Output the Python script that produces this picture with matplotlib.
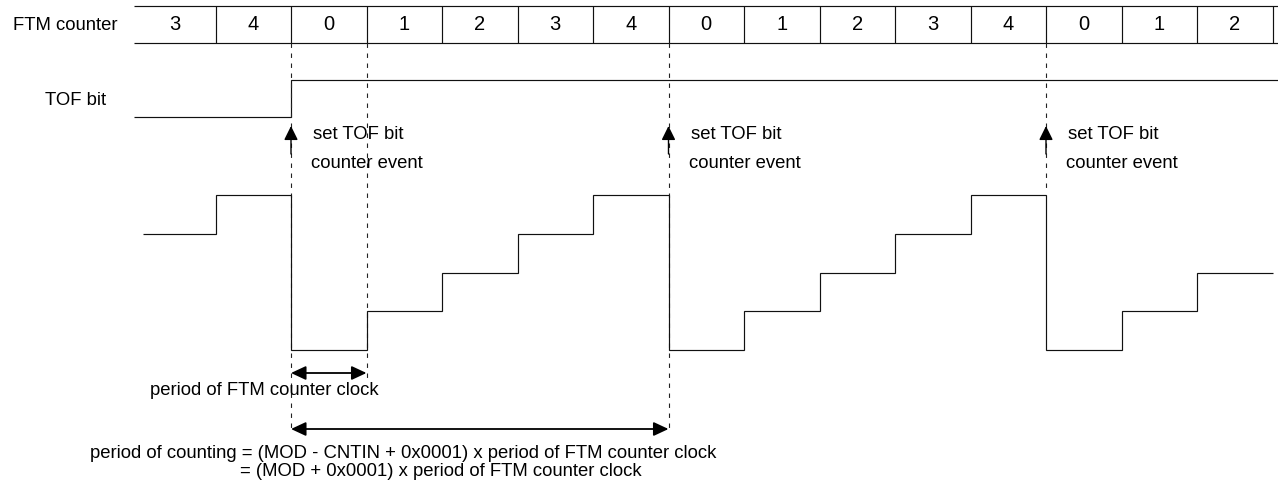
import matplotlib.pyplot as plt
import numpy as np

plt.rcParams['font.family'] = ['Liberation Sans', 'DejaVu Sans']
plt.rcParams['lines.scale_dashes'] = False

# data
counter_values = [3, 4, 0, 1, 2, 3, 4, 0, 1, 2, 3, 4, 0, 1, 2]
tof_bit = [0, 1]
tof_edges = [-0.08, 2, 15.1]
event_cells = [2, 7, 12]
event_labels = ['set TOF bit', 'counter event']
formula_lines = ['period of counting = (MOD - CNTIN + 0x0001) x period of FTM counter clock',
                 '= (MOD + 0x0001) x period of FTM counter clock']

# layout (pixels, y from top)
W, H = 1278, 486
CELL0_PX = 140.0
CELL_PX = 75.5
BOX_LEFT = -0.08
BOX_TOP, BOX_BOT = 6, 43
TOF_Y = {0: 117, 1: 80}
FS = 13.3
LINE_KW = dict(color='#111111', lw=0.85)

fig = plt.figure(figsize=(W / 100, H / 100), dpi=100)
ax = fig.add_axes([0, 0, 1, 1])
ax.set_xlim(-CELL0_PX / CELL_PX, (W - CELL0_PX) / CELL_PX)
ax.set_ylim(H, 0)
ax.axis('off')


def px(x):
    # pixel column -> cell units
    return (x - CELL0_PX) / CELL_PX


# counter row
n = len(counter_values)
ax.hlines([BOX_TOP, BOX_BOT], BOX_LEFT, ax.get_xlim()[1], **LINE_KW)
ax.vlines(np.arange(1, n + 1), BOX_TOP, BOX_BOT, **LINE_KW)
for i, v in enumerate(counter_values):
    left = BOX_LEFT if i == 0 else i
    ax.text((left + i + 1) / 2, 25, str(v), ha='center', va='center', fontsize=14.5)
ax.text(px(13), 25, 'FTM counter', ha='left', va='center', fontsize=FS)

# TOF bit
ax.stairs([TOF_Y[b] for b in tof_bit], tof_edges, baseline=None, **LINE_KW)
ax.text(px(45), 100, 'TOF bit', ha='left', va='center', fontsize=FS)

# dashed guide lines
dash_ends = {2: 432, 3: 378, 7: 432, 12: 192}
for x, yend in dash_ends.items():
    ax.vlines(x, BOX_BOT, yend, color='#222222', lw=0.8, linestyles=(0, (3.2, 4.0)))

# counter events
for x in event_cells:
    ax.annotate('', xy=(x, 126), xytext=(x, 154),
                arrowprops=dict(arrowstyle='-|>,head_length=0.85,head_width=0.42',
                                color='black', lw=1.0, shrinkA=0, shrinkB=0))
    ax.text(x + 22 / CELL_PX, 134, event_labels[0], ha='left', va='center', fontsize=FS)
    ax.text(x + 20 / CELL_PX, 163, event_labels[1], ha='left', va='center', fontsize=FS)

# counter waveform on its own value scale
ax2 = ax.twinx()
ax2.set_ylim((350 - H) / 38.75, 350 / 38.75)
ax2.axis('off')
edges = np.concatenate([[0.04], np.arange(1, n + 1)])
ax2.stairs(counter_values, edges, baseline=None, **LINE_KW)

# period arrows
arrow_kw = dict(arrowstyle='<|-|>,head_length=0.9,head_width=0.42', color='black',
                lw=1.3, shrinkA=0, shrinkB=0)
ax.annotate('', xy=(2, 373), xytext=(3, 373), arrowprops=arrow_kw)
ax.text(px(150), 390, 'period of FTM counter clock', ha='left', va='center', fontsize=FS)
ax.annotate('', xy=(2, 429), xytext=(7, 429), arrowprops=arrow_kw)
ax.text(px(90), 453, formula_lines[0], ha='left', va='center', fontsize=FS)
ax.text(px(240), 471, formula_lines[1], ha='left', va='center', fontsize=FS)

fig.savefig('out.png', dpi=100)
